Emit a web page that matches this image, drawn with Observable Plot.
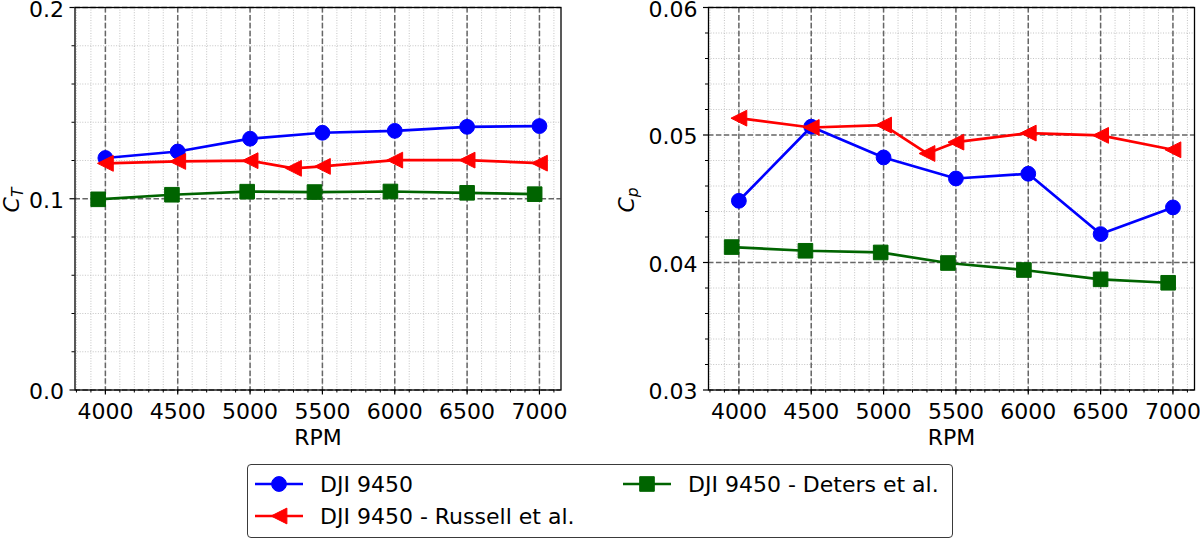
<!DOCTYPE html>
<html>
<head>
<meta charset="utf-8">
<script src="https://cdn.jsdelivr.net/npm/d3@7"></script>
<script src="https://cdn.jsdelivr.net/npm/@observablehq/plot@0.6"></script>
<style>
  html, body { margin: 0; padding: 0; background: #fff; }
  body { width: 1200px; height: 538px; position: relative; overflow: hidden; font-family: "DejaVu Sans", sans-serif; }
  #charts { display: flex; position: absolute; left: 0; top: 0; }
  #legend { position: absolute; left: 247px; top: 464px; width: 704px; height: 72px; border: 1.2px solid #3a3a3a; border-radius: 4px; background: #fff; }
  .item { position: absolute; display: flex; align-items: center; height: 30px; font-size: 22px; color: #000; white-space: nowrap; }
  .item svg { margin-right: 17px; }
</style>
</head>
<body>
<div id="charts"></div>
<div id="legend"></div>
<script>
// ---- data ----
const seriesNames = ["DJI 9450", "DJI 9450 - Russell et al.", "DJI 9450 - Deters et al."];
const seriesColors = ["#0000ff", "#ff0000", "#006400"];

const rpmOurs = [4000, 4500, 5000, 5500, 6000, 6500, 7000];
const ctOurs = [0.1213, 0.1247, 0.1314, 0.1345, 0.1355, 0.1376, 0.1380];
const cpOurs = [0.04484, 0.05065, 0.04824, 0.04659, 0.04696, 0.04223, 0.04432];

const rpmRussell = [4000, 4500, 5000, 5300, 5500, 6000, 6500, 7000];
const ctRussell = [0.1185, 0.1195, 0.1199, 0.1159, 0.1169, 0.1202, 0.1202, 0.1186];
const cpRussell = [0.05132, 0.05059, 0.05078, 0.04855, 0.04944, 0.05015, 0.04997, 0.04884];

const rpmDeters = [3950, 4460, 4980, 5445, 5970, 6500, 6967];
const ctDeters = [0.0997, 0.1021, 0.1037, 0.1035, 0.1038, 0.1031, 0.1024];
const cpDeters = [0.04121, 0.04092, 0.04079, 0.03996, 0.03941, 0.03868, 0.03841];

const rpmTicks = [4000, 4500, 5000, 5500, 6000, 6500, 7000];
const rpmMinorTicks = d3.range(3800, 7101, 100);
const ctTicks = [0.0, 0.1, 0.2];
const ctTickLabels = ["0.0", "0.1", "0.2"];
const ctMinorTicks = [0.02, 0.04, 0.06, 0.08, 0.12, 0.14, 0.16, 0.18];
const cpTicks = [0.03, 0.04, 0.05, 0.06];
const cpTickLabels = ["0.03", "0.04", "0.05", "0.06"];
const cpMinorTicks = [0.032, 0.034, 0.036, 0.038, 0.042, 0.044, 0.046, 0.048, 0.052, 0.054, 0.056, 0.058];

// ---- symbols (matplotlib-like) ----
const symCircle = {draw(ctx, size) { const r = Math.sqrt(size / Math.PI); ctx.moveTo(r, 0); ctx.arc(0, 0, r, 0, 2 * Math.PI); }};
const symTriLeft = {draw(ctx, size) { const r = Math.sqrt(size / Math.PI); ctx.moveTo(-r, 0); ctx.lineTo(r, -r); ctx.lineTo(r, r); ctx.closePath(); }};
const symSquare = {draw(ctx, size) { const r = Math.sqrt(size / Math.PI); ctx.rect(-r, -r, 2 * r, 2 * r); }};
const symbols = [symCircle, symTriLeft, symSquare];
const symR = [7.4, 7.9, 7.3];

function rows(xs, ys) { return xs.map((x, i) => ({x, y: ys[i]})); }

function panel(opts) {
  const {yDomain, yTicks, yTickLabels, yMinor, data, marginLeft, marginRight} = opts;
  const gridMinor = {stroke: "#bdbdbd", strokeWidth: 0.9, strokeDasharray: "1,1.6"};
  const gridMajor = {stroke: "#666666", strokeWidth: 1.5, strokeDasharray: "5.5,2.4"};
  const marks = [
    Plot.ruleX(rpmMinorTicks, gridMinor),
    Plot.ruleY(yMinor, gridMinor),
    Plot.ruleX(rpmTicks, gridMajor),
    Plot.ruleY(yTicks, gridMajor)
  ];
  data.forEach((d, i) => {
    marks.push(Plot.line(d, {x: "x", y: "y", stroke: seriesColors[i], strokeWidth: 2.7}));
    marks.push(Plot.dot(d, {x: "x", y: "y", symbol: symbols[i], r: symR[i], fill: seriesColors[i], stroke: seriesColors[i], strokeWidth: 1}));
  });
  marks.push(
    Plot.frame({stroke: "#000", strokeWidth: 1.3}),
    Plot.axisX(rpmMinorTicks, {tickSize: 3, tickFormat: () => "", label: null, strokeWidth: 1}),
    Plot.axisX(rpmTicks, {tickSize: 5, tickPadding: 8, label: null, tickFormat: d => String(d), strokeWidth: 1.2}),
    Plot.axisY(yMinor, {tickSize: 3, tickFormat: () => "", label: null, strokeWidth: 1}),
    Plot.axisY(yTicks, {tickSize: 5, tickFormat: () => "", label: null, strokeWidth: 1.2}),
    Plot.text(yTicks, {y: d => d, text: (d, i) => yTickLabels[i], frameAnchor: "left", dx: -11, dy: 2, textAnchor: "end", lineAnchor: "middle", fontSize: 22, fill: "#000"}),
    Plot.text(["RPM"], {frameAnchor: "bottom", dy: 47.5, fontSize: 22, lineAnchor: "middle", fill: "#000"})
  );
  return Plot.plot({
    width: 600,
    height: 450,
    marginTop: 7,
    marginBottom: 60.5,
    marginLeft,
    marginRight,
    x: {domain: [3790, 7149], axis: null},
    y: {domain: yDomain, axis: null},
    style: {fontFamily: "DejaVu Sans", fontSize: "22px", color: "#000", background: "#fff", overflow: "visible"},
    marks
  });
}

const left = panel({
  yDomain: [0, 0.2], yTicks: ctTicks, yTickLabels: ctTickLabels, yMinor: ctMinorTicks,
  data: [rows(rpmOurs, ctOurs), rows(rpmRussell, ctRussell), rows(rpmDeters, ctDeters)],
  marginLeft: 74.5, marginRight: 39.5
});
const right = panel({
  yDomain: [0.03, 0.06], yTicks: cpTicks, yTickLabels: cpTickLabels, yMinor: cpMinorTicks,
  data: [rows(rpmOurs, cpOurs), rows(rpmRussell, cpRussell), rows(rpmDeters, cpDeters)],
  marginLeft: 108, marginRight: 6
});

function ylabel(svgNode, x, y, main, sub) {
  const t = d3.select(svgNode).append("text")
    .attr("transform", `translate(${x},${y}) rotate(-90)`)
    .attr("text-anchor", "middle")
    .attr("font-family", "DejaVu Sans")
    .attr("font-size", 22)
    .attr("font-style", "italic")
    .attr("fill", "#000");
  t.append("tspan").text(main);
  t.append("tspan").attr("font-size", 15.5).attr("dy", 4).text(sub);
}
ylabel(left, 18.5, 200, "C", "T");
ylabel(right, 33.5, 200, "C", "p");

const charts = document.getElementById("charts");
charts.appendChild(left);
charts.appendChild(right);

// ---- legend ----
const legend = document.getElementById("legend");
const legendPos = [[7, 4], [7, 36], [375, 4]];
seriesNames.forEach((name, i) => {
  const item = document.createElement("div");
  item.className = "item";
  item.style.left = legendPos[i][0] + "px";
  item.style.top = legendPos[i][1] + "px";
  const s = d3.create("svg").attr("width", 48).attr("height", 20);
  s.append("line").attr("x1", 0).attr("x2", 48).attr("y1", 10).attr("y2", 10)
    .attr("stroke", seriesColors[i]).attr("stroke-width", 2.7);
  s.append("path").attr("transform", "translate(24,10)")
    .attr("d", d3.symbol(symbols[i], symR[i] * symR[i] * Math.PI)())
    .attr("fill", seriesColors[i]).attr("stroke", seriesColors[i]);
  item.appendChild(s.node());
  const span = document.createElement("span");
  span.textContent = name;
  item.appendChild(span);
  legend.appendChild(item);
});
</script>
</body>
</html>
